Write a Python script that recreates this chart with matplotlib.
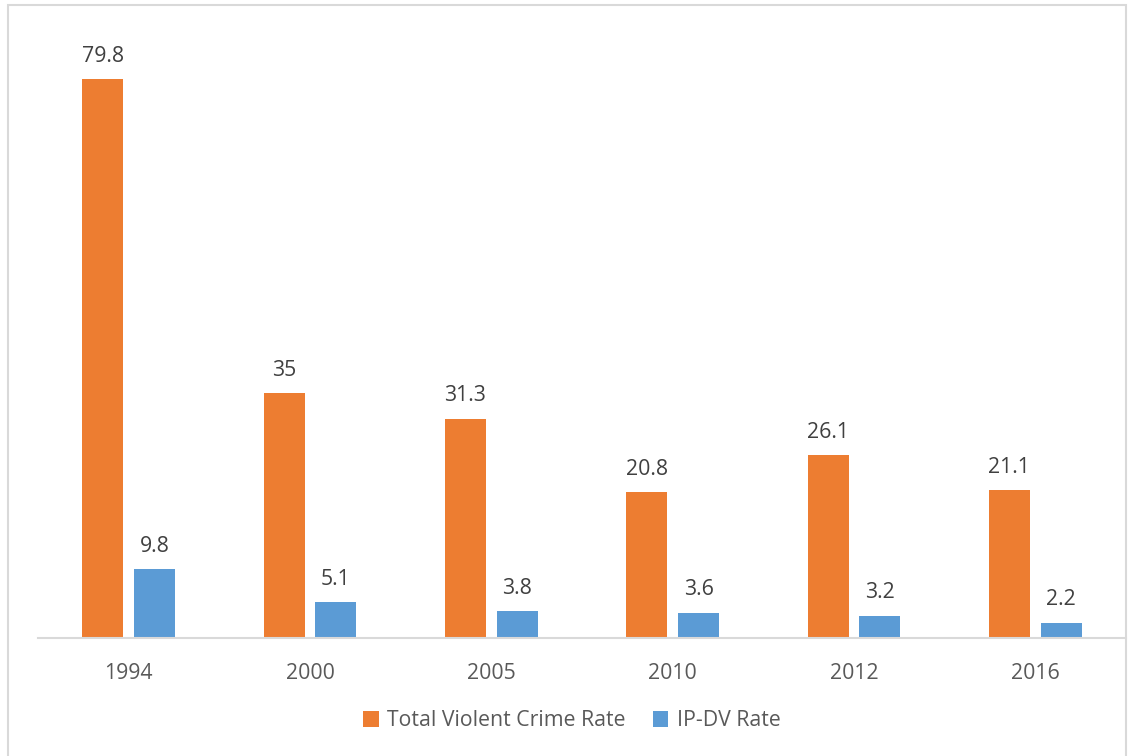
import matplotlib.pyplot as plt
import numpy as np
from matplotlib.patches import Rectangle

years = ["1994", "2000", "2005", "2010", "2012", "2016"]
violent_rate = [79.8, 35, 31.3, 20.8, 26.1, 21.1]
ipdv_rate = [9.8, 5.1, 3.8, 3.6, 3.2, 2.2]

orange = "#ed7d31"
blue = "#5b9bd5"
grey_text = "#595959"

plt.rcParams["font.family"] = ["Open Sans", "DejaVu Sans"]

fig = plt.figure(figsize=(11.28, 7.56), dpi=100)
ax = fig.add_axes([38 / 1128, 118 / 756, 1088 / 1128, 630 / 756])

x = np.arange(len(years))
w = 0.226
off = 0.143
b1 = ax.bar(x - off, violent_rate, w, color=orange, label="Total Violent Crime Rate")
b2 = ax.bar(x + off, ipdv_rate, w, color=blue, label="IP-DV Rate")

for bars, vals in [(b1, violent_rate), (b2, ipdv_rate)]:
    for rect, v in zip(bars, vals):
        ax.annotate(f"{v:g}", (rect.get_x() + rect.get_width() / 2, v),
                    xytext=(0, 9), textcoords="offset points",
                    ha="center", va="bottom", fontsize=15.3, color="#404040")

ax.set_xlim(-0.5, len(years) - 0.5)
ax.set_ylim(0, 90)
ax.set_xticks(x)
ax.set_xticklabels(years, fontsize=15.3, color=grey_text)
ax.tick_params(axis="x", length=0, pad=18)
ax.set_yticks([])
for s in ["top", "right", "left"]:
    ax.spines[s].set_visible(False)
ax.spines["bottom"].set_color("#d9d9d9")
ax.spines["bottom"].set_linewidth(1.5)

leg = fig.legend(loc="center", bbox_to_anchor=(572 / 1128, 1 - 721 / 756), ncol=2,
                 frameon=False, fontsize=15.3, handlelength=0.72, handleheight=0.72,
                 handletextpad=0.4, columnspacing=1.3)
for t in leg.get_texts():
    t.set_color(grey_text)

# outer frame
fig.patches.append(Rectangle((8 / 1128, -0.01), 1118 / 1128, 1 - 5 / 756 + 0.01,
                             transform=fig.transFigure, fill=False,
                             edgecolor="#d9d9d9", linewidth=1.5))

fig.savefig("out.png", dpi=100)
